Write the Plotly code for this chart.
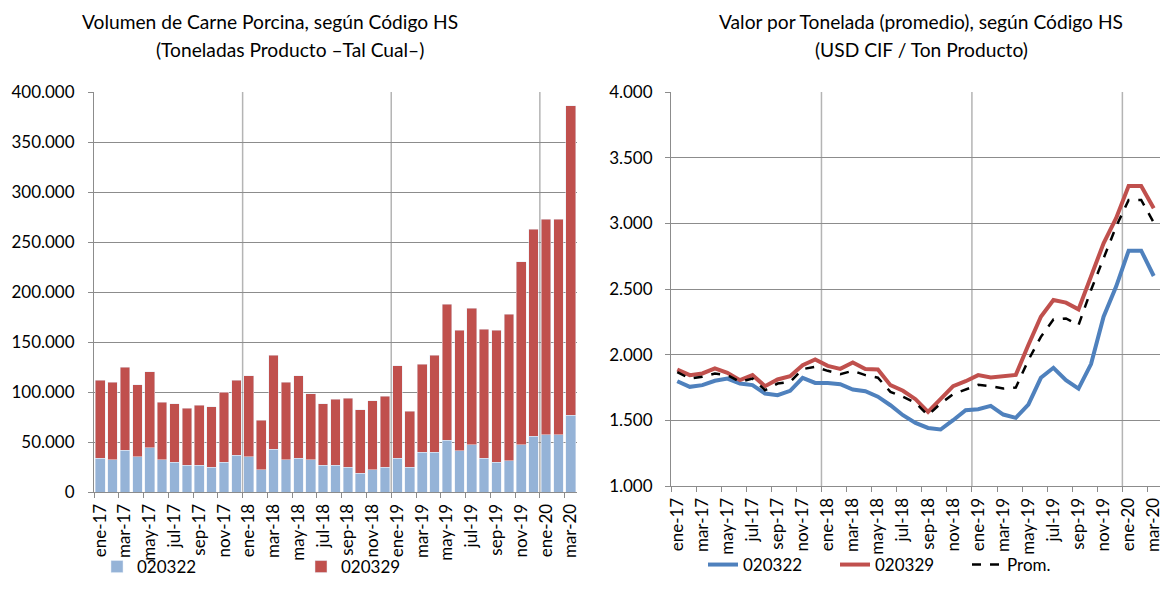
import plotly.graph_objects as go

months = ["ene-17","feb-17","mar-17","abr-17","may-17","jun-17","jul-17","ago-17","sep-17","oct-17","nov-17","dic-17",
          "ene-18","feb-18","mar-18","abr-18","may-18","jun-18","jul-18","ago-18","sep-18","oct-18","nov-18","dic-18",
          "ene-19","feb-19","mar-19","abr-19","may-19","jun-19","jul-19","ago-19","sep-19","oct-19","nov-19","dic-19",
          "ene-20","feb-20","mar-20"]

vol_020322 = [34000, 32300, 41700, 35300, 44300, 32300, 29700, 26700, 26700, 25000, 29700, 37000,
              35300, 22300, 43000, 32300, 34000, 32300, 26700, 26700, 25000, 19000, 22300, 25000,
              34000, 25000, 40000, 40000, 51700, 41300, 47300, 34000, 29700, 31300, 47300, 56000,
              57300, 57300, 76700]
vol_020329 = [77700, 77700, 83300, 72000, 76000, 57400, 58600, 57000, 60000, 60300, 70300, 74700,
              81000, 49700, 93700, 77700, 82300, 66000, 61600, 66000, 69000, 63300, 69000, 70700,
              92300, 55700, 88000, 96700, 136300, 120400, 136400, 129000, 132000, 146700, 183000, 206700,
              215700, 215700, 309600]

val_020322 = [1798, 1755, 1768, 1801, 1818, 1780, 1768, 1704, 1691, 1725, 1824, 1785,
              1785, 1775, 1735, 1722, 1680, 1615, 1539, 1480, 1442, 1430, 1501, 1577,
              1585, 1610, 1544, 1519, 1620, 1824, 1900, 1806, 1742, 1928, 2289, 2518,
              2792, 2792, 2599]
val_020329 = [1887, 1844, 1857, 1895, 1862, 1806, 1844, 1760, 1811, 1836, 1920, 1963,
              1915, 1892, 1941, 1890, 1887, 1768, 1725, 1661, 1564, 1666, 1760, 1798,
              1844, 1826, 1836, 1846, 2073, 2289, 2416, 2396, 2345, 2594, 2848, 3039,
              3285, 3285, 3115]
val_prom = [1867, 1818, 1831, 1857, 1844, 1793, 1818, 1730, 1780, 1793, 1890, 1908,
            1877, 1852, 1877, 1844, 1825, 1717, 1679, 1633, 1539, 1628, 1699, 1735,
            1770, 1760, 1742, 1750, 1958, 2136, 2268, 2276, 2225, 2492, 2734, 2975,
            3178, 3178, 3006]

FONT = "Lato"
# page body has an 8px margin: size the figure so it fits the 1173x600 window
OFF = 8
W, H = 1173 - 2 * OFF, 600 - 2 * OFF


def px(x):
    return (x - OFF) / W


def py(y):
    return 1 - (y - OFF) / H


idx = list(range(len(months)))
tick_idx = idx[::2]
tick_txt = months[::2]
year_bounds = [i - 0.5 for i, m in enumerate(months) if m.startswith("ene") and i > 0]

fig = go.Figure()
fig.add_trace(go.Bar(x=idx, y=vol_020322, name="020322", marker_color="#95B3D7",
                     xaxis="x", yaxis="y", legend="legend"))
fig.add_trace(go.Bar(x=idx, y=vol_020329, name="020329", marker_color="#C0504D",
                     xaxis="x", yaxis="y", legend="legend"))
fig.add_trace(go.Scatter(x=idx, y=val_020322, name="020322", mode="lines",
                         line=dict(color="#4F81BD", width=4), xaxis="x2", yaxis="y2", legend="legend2"))
fig.add_trace(go.Scatter(x=idx, y=val_020329, name="020329", mode="lines",
                         line=dict(color="#C0504D", width=4), xaxis="x2", yaxis="y2", legend="legend2"))
fig.add_trace(go.Scatter(x=idx, y=val_prom, name="Prom.", mode="lines",
                         line=dict(color="black", width=2.5, dash="dash"), xaxis="x2", yaxis="y2", legend="legend2"))

grid = "#8C8C8C"
axis_col = "#8C8C8C"
xcommon = dict(range=[-0.5, len(months) - 0.5], tickmode="array", tickvals=tick_idx, ticktext=tick_txt,
               tickangle=-90, ticks="", showgrid=False, showline=True, linecolor=axis_col,
               ticklabelstandoff=4,
               tickfont=dict(family=FONT, size=17, color="black"), zeroline=False, automargin=False,
               minor=dict(tick0=-0.5, dtick=2, ticks="outside", ticklen=5, tickcolor=axis_col, showgrid=False))
ycommon = dict(showgrid=True, gridcolor=grid, showline=True, linecolor=axis_col, ticks="outside",
               ticklen=5, tickcolor=axis_col, tickformat=",d", zeroline=False, automargin=False,
               tickfont=dict(family=FONT, size=17, color="black"))

fig.update_layout(
    width=W, height=H, margin=dict(l=0, r=0, t=0, b=0, autoexpand=False),
    paper_bgcolor="white", plot_bgcolor="white", separators=",.",
    barmode="stack", bargap=0.22,
    font=dict(family=FONT, color="black"),
    xaxis=dict(domain=[px(94), px(577)], anchor="y", **xcommon),
    yaxis=dict(domain=[py(492), py(92)], anchor="x", range=[0, 400000], dtick=50000,
               ticklabelstandoff=10, **ycommon),
    xaxis2=dict(domain=[px(671), px(1160)], anchor="y2", **xcommon),
    yaxis2=dict(domain=[py(486), py(92)], anchor="x2", range=[1000, 4000], dtick=500,
                ticklabelstandoff=9, **ycommon),
    legend=dict(orientation="h", x=px(97), y=py(567), xanchor="left", yanchor="middle",
                traceorder="normal", entrywidth=159,
                font=dict(family=FONT, size=17, color="black"), bgcolor="rgba(0,0,0,0)"),
    legend2=dict(orientation="h", x=px(703), y=py(565), xanchor="left", yanchor="middle",
                 traceorder="normal", entrywidth=87,
                 font=dict(family=FONT, size=17, color="black"), bgcolor="rgba(0,0,0,0)"),
    showlegend=True,
)

for xr, yr in (("x", "y domain"), ("x2", "y2 domain")):
    for b in year_bounds:
        fig.add_shape(type="line", xref=xr, yref=yr, x0=b, x1=b, y0=0, y1=1,
                      line=dict(color="#B4B4B4", width=1.5), layer="below")

titles = [
    ("Volumen de Carne Porcina, según Código HS", 270, 21),
    ("(Toneladas Producto –Tal Cual–)", 290, 50),
    ("Valor por Tonelada (promedio), según Código HS", 921, 21),
    ("(USD CIF / Ton Producto)", 921, 50),
]
for txt, tx, ty in titles:
    fig.add_annotation(text=txt, xref="paper", yref="paper", x=px(tx), y=py(ty),
                       xanchor="center", yanchor="middle", showarrow=False,
                       font=dict(family=FONT, size=19.2, color="black"))

fig.write_html("out.html")
